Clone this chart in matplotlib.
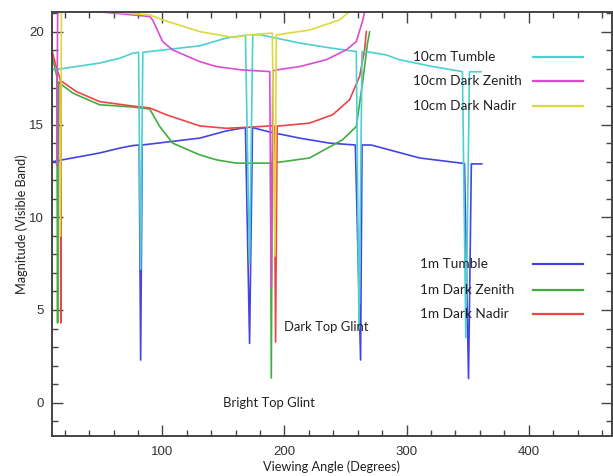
import numpy as np
import matplotlib
matplotlib.use("Agg")
import matplotlib.pyplot as plt
from matplotlib.ticker import MultipleLocator

# magnitude vs viewing angle for the two sizes / three attitudes
tumble_10cm_x = [10, 16, 48.7, 65, 75.7, 80.5, 82.2, 84, 130.5, 152.4, 168, 171.4, 174, 180,
                 212.4, 237, 258.8, 261, 263.5, 267, 283.3, 294, 321.5, 345.7, 348.5, 351.5, 361]
tumble_10cm_y = [18.0, 18.0, 18.32, 18.58, 18.85, 18.9, 7.2, 18.9, 19.25, 19.67, 19.82, 7.5, 19.84, 19.85,
                 19.4, 19.14, 18.94, 4.0, 18.94, 18.94, 18.76, 18.5, 18.13, 17.86, 3.5, 17.85, 17.85]

zenith_10cm_x = [13.5, 14.5, 30, 46.3, 89.6, 92, 100.2, 108.4, 130.5, 144.2, 165, 187.9, 189.2, 190.5,
                 193.4, 212.4, 234.2, 250.6, 258.8, 264.2, 265.6, 267]
zenith_10cm_y = [12.8, 24.0, 22.5, 21.1, 20.83, 20.65, 19.48, 19.03, 18.4, 18.13, 17.95, 17.86, 6.2, 17.9,
                 17.95, 18.13, 18.5, 19.03, 19.48, 20.65, 21.1, 23.0]

nadir_10cm_x = [16.5, 17.5, 40, 51.3, 89.6, 100.2, 130.5, 157.8, 171.5, 187.9, 190.0, 192.2, 193.3,
                220.5, 245.1, 253.3, 256]
nadir_10cm_y = [9.0, 24.0, 22.0, 21.1, 20.92, 20.65, 20.02, 19.7, 19.84, 19.93, 19.93, 7.9, 19.84,
                20.1, 20.65, 21.1, 22.0]

tumble_1m_x = [10, 48.7, 65, 75.7, 81, 82.2, 83.5, 130.5, 152.4, 168, 171.4, 173.8, 187.9, 212.4,
               237, 258, 262.3, 263.5, 271, 310.6, 347.4, 350.7, 353, 361.6]
tumble_1m_y = [13.0, 13.47, 13.73, 13.87, 13.9, 2.3, 13.9, 14.27, 14.66, 14.84, 3.2, 14.84, 14.6, 14.27,
               14.0, 13.9, 2.3, 13.9, 13.9, 13.2, 12.9, 1.3, 12.88, 12.88]

zenith_1m_x = [10, 13.6, 14.2, 14.8, 16, 26.6, 48.7, 75.7, 89.6, 97.8, 108.4, 130.5, 144.2, 160.5,
               185.1, 188.5, 189.2, 190, 220.5, 247.5, 258.8, 263.9, 268, 269.7]
zenith_1m_y = [18.6, 17.6, 4.3, 17.3, 17.23, 16.7, 16.07, 15.95, 15.84, 14.9, 14.0, 13.37, 13.1, 12.92,
               12.92, 12.92, 1.33, 12.92, 13.2, 14.18, 14.9, 17.25, 19.4, 20.0]

nadir_1m_x = [10, 13.3, 16.4, 16.8, 17.2, 29.6, 48.7, 75.7, 89.6, 103.3, 130.5, 152.4, 171.4, 187.9,
              191.5, 192.7, 194, 196.1, 220.5, 239.4, 253.3, 261.5, 265.6, 267]
nadir_1m_y = [18.9, 18.05, 17.45, 4.3, 17.35, 16.78, 16.24, 16.0, 15.9, 15.53, 14.93, 14.8, 14.86, 14.93,
              14.93, 3.27, 14.93, 14.93, 15.08, 15.53, 16.34, 17.6, 19.03, 20.02]

c_cyan = '#4cd0d0'
c_mag = '#dc4cd0'
c_yel = '#dada3c'
c_blue = '#4444e6'
c_green = '#3fae3f'
c_red = '#f04444'

fig = plt.figure(figsize=(6.13, 4.76), dpi=100)
ax = fig.add_axes([0.085, 0.084, 0.913, 0.891])

lw = 1.2
ax.plot(tumble_1m_x, tumble_1m_y, color=c_blue, lw=lw)
ax.plot(zenith_1m_x, zenith_1m_y, color=c_green, lw=lw)
ax.plot(nadir_1m_x, nadir_1m_y, color=c_red, lw=lw)
ax.plot(tumble_10cm_x, tumble_10cm_y, color=c_cyan, lw=lw)
ax.plot(zenith_10cm_x, zenith_10cm_y, color=c_mag, lw=lw)
ax.plot(nadir_10cm_x, nadir_10cm_y, color=c_yel, lw=lw)

ax.set_xlim(9.7, 468)
ax.set_ylim(-1.8, 21.08)
ax.xaxis.set_major_locator(MultipleLocator(100))
ax.xaxis.set_minor_locator(MultipleLocator(20))
ax.yaxis.set_major_locator(MultipleLocator(5))
ax.yaxis.set_minor_locator(MultipleLocator(1))
ax.tick_params(which='both', direction='in', top=True, right=True, color='#444444', width=1.0)
ax.tick_params(which='major', length=8)
ax.tick_params(which='minor', length=4.5)
for lab in ax.get_xticklabels() + ax.get_yticklabels():
    lab.set_fontfamily('Liberation Sans')
    lab.set_fontsize(9.5)
    lab.set_color('#333333')
ax.tick_params(axis='x', pad=7)
ax.tick_params(axis='y', pad=6)
for s in ax.spines.values():
    s.set_color('#444444')
    s.set_linewidth(1.4)

lbl_font = dict(family='Lato', size=9.2, color='#222222')
ax.set_xlabel('Viewing Angle (Degrees)', labelpad=2, **lbl_font)
ax.set_ylabel('Magnitude (Visible Band)', labelpad=1, **lbl_font)

# hand-placed key, text on the left and the line swatch on the right
legend_rows = [('10cm Tumble', c_cyan, 0.894), ('10cm Dark Zenith', c_mag, 0.838),
               ('10cm Dark Nadir', c_yel, 0.777), ('1m Tumble', c_blue, 0.405),
               ('1m Dark Zenith', c_green, 0.345), ('1m Dark Nadir', c_red, 0.287)]
for i, (name, col, yy) in enumerate(legend_rows):
    tx = 0.645 if i < 3 else 0.658
    ax.text(tx, yy, name, transform=ax.transAxes, va='center', ha='left', fontsize=9.8,
            family='Lato', color='#222222')
    ax.plot([0.859, 0.948], [yy, yy], transform=ax.transAxes, color=col, lw=1.6)

ax.text(200, 4.08, 'Dark Top Glint', va='center', ha='left', fontsize=9.4, family='Lato', color='#222222')
ax.text(149.3, 0.0, 'Bright Top Glint', va='center', ha='left', fontsize=9.4, family='Lato', color='#222222')

fig.savefig('out.png', dpi=100)
